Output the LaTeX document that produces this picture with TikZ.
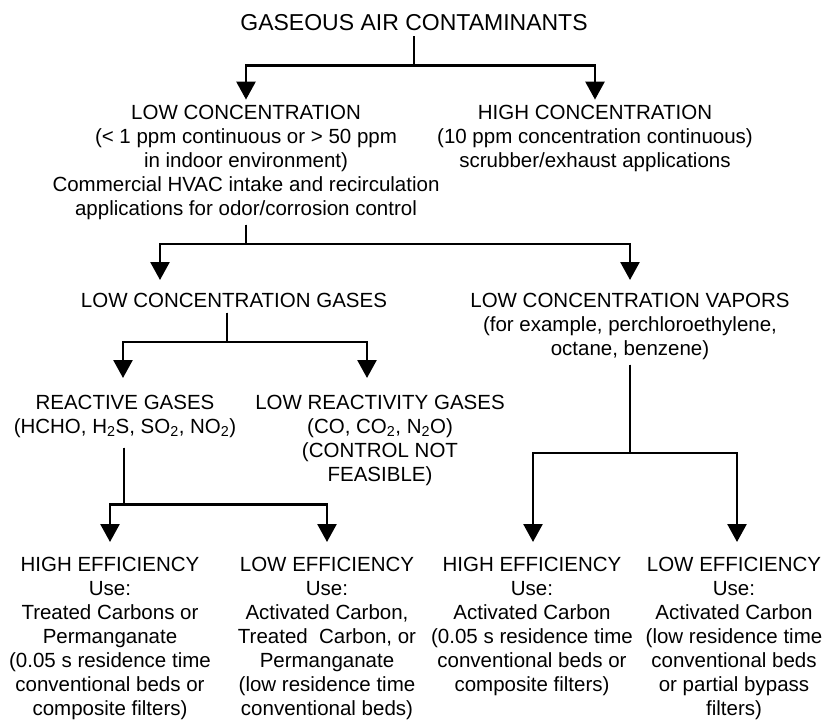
\documentclass[tikz,border=0pt]{standalone}
\usepackage{fontspec}
\setmainfont{Liberation Sans}
\usepackage{tikz}
\usetikzlibrary{arrows.meta}
\tikzset{
  txt/.style={align=center, inner xsep=0pt, inner ysep=5pt, font=\fontsize{20.5}{24}\selectfont},
  arrow/.style={-{Triangle[length=18pt,width=19pt]}, line width=2.6pt}
}

\begin{document}
\begin{tikzpicture}[x=1pt, y=-1pt]
    \useasboundingbox (0,0) rectangle (830,720);
    \node[txt, font=\fontsize{23}{27}\selectfont] (contaminants) at (414,23) {GASEOUS AIR CONTAMINANTS};
    \node[txt, anchor=north] (lowconc) at (246,99.6) {LOW CONCENTRATION\\(< 1 ppm continuous or > 50 ppm\\in indoor environment)\\Commercial HVAC intake and recirculation\\applications for odor/corrosion control};
    \node[txt, anchor=north] (highconc) at (595,99.6) {HIGH CONCENTRATION\\(10 ppm concentration continuous)\\scrubber/exhaust applications};
    \node[txt, anchor=north] (lcgases) at (234,287.6) {LOW CONCENTRATION GASES};
    \node[txt, anchor=north] (lcvapors) at (630,287.6) {LOW CONCENTRATION VAPORS\\(for example, perchloroethylene,\\octane, benzene)};
    \node[txt, anchor=north] (reactive) at (125,389.6) {REACTIVE GASES\\(HCHO, H\textsubscript{2}S, SO\textsubscript{2}, NO\textsubscript{2})};
    \node[txt, anchor=north] (lowreact) at (380,389.6) {LOW REACTIVITY GASES\\(CO, CO\textsubscript{2}, N\textsubscript{2}O)\\(CONTROL NOT\\FEASIBLE)};
    \node[txt, anchor=north] (reacthigh) at (110,551.6) {HIGH EFFICIENCY\\Use:\\Treated Carbons or\\Permanganate\\(0.05 s residence time\\conventional beds or\\composite filters)};
    \node[txt, anchor=north] (reactlow) at (327,551.6) {LOW EFFICIENCY\\Use:\\Activated Carbon,\\Treated~ Carbon, or\\Permanganate\\(low residence time\\conventional beds)};
    \node[txt, anchor=north] (vaporhigh) at (532,551.6) {HIGH EFFICIENCY\\Use:\\Activated Carbon\\(0.05 s residence time\\conventional beds or\\composite filters)};
    \node[txt, anchor=north] (vaporlow) at (734,551.6) {LOW EFFICIENCY\\Use:\\Activated Carbon\\(low residence time\\conventional beds\\or partial bypass\\filters)};

    \draw[arrow] (contaminants.south) -- ++(0,29) -| (lowconc.north);
    \draw[arrow] (contaminants.south) -- ++(0,29) -| (highconc.north);
    \draw[arrow] (lowconc.south) -- ++(0,19.3) -| ([xshift=-74pt,yshift=7.6pt]lcgases.north);
    \draw[arrow] (lowconc.south) -- ++(0,19.3) -| ([yshift=7.6pt]lcvapors.north);
    \draw[arrow] ([xshift=-7pt]lcgases.south) -- ++(0,29.6) -| ([xshift=-2pt,yshift=11.6pt]reactive.north);
    \draw[arrow] ([xshift=-7pt]lcgases.south) -- ++(0,29.6) -| ([xshift=-13pt,yshift=11.6pt]lowreact.north);
    \draw[arrow] ([xshift=-1pt,yshift=-5pt]reactive.south) -- ++(0,57) -| ([yshift=9.6pt]reacthigh.north);
    \draw[arrow] ([xshift=-1pt,yshift=-5pt]reactive.south) -- ++(0,57) -| ([yshift=9.6pt]reactlow.north);
    \draw[arrow] (lcvapors.south) -- ++(0,88.4) -| ([xshift=1pt,yshift=9.6pt]vaporhigh.north);
    \draw[arrow] (lcvapors.south) -- ++(0,88.4) -| ([xshift=3pt,yshift=9.6pt]vaporlow.north);
\end{tikzpicture}
\end{document}
